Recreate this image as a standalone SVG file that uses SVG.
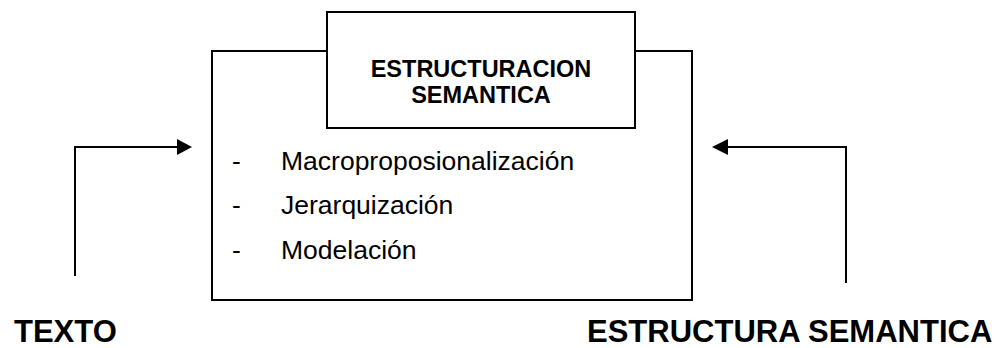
<svg xmlns="http://www.w3.org/2000/svg" width="1008" height="348" viewBox="0 0 1008 348">
<style>
.ln{fill:none;stroke:#000;stroke-width:2}
.bx{fill:#fff;stroke:#000;stroke-width:2}
.hd{fill:#000;stroke:none}
.t{font-family:"Liberation Sans",Arial,sans-serif;fill:#000}
.b{font-weight:bold}
</style>
<rect width="1008" height="348" fill="#fff"/>
<g id="process">
<rect class="bx" x="212" y="51" width="480" height="249"/>
<text class="t" x="232" y="170" font-size="26.5">-</text>
<text class="t" x="281" y="170" font-size="26.5">Macroproposionalización</text>
<text class="t" x="232" y="214" font-size="26.5">-</text>
<text class="t" x="281" y="214" font-size="26.5">Jerarquización</text>
<text class="t" x="232" y="259" font-size="26.5">-</text>
<text class="t" x="281" y="259" font-size="26.5">Modelación</text>
</g>
<g id="title">
<rect class="bx" x="327" y="12" width="308" height="116"/>
<text class="t b" x="481" y="77" font-size="23.5" text-anchor="middle">ESTRUCTURACION</text>
<text class="t b" x="481" y="103" font-size="23.5" text-anchor="middle">SEMANTICA</text>
</g>
<g id="texto">
<text class="t b" x="14" y="342" font-size="31">TEXTO</text>
</g>
<g id="estructura">
<text class="t b" x="587" y="342" font-size="31">ESTRUCTURA SEMANTICA</text>
</g>
<g id="connectors">
<polyline class="ln" points="75,276 75,147 178,147"/>
<polygon class="hd" points="177,139 192,147 177,155"/>
<polyline class="ln" points="846,283 846,147 727,147"/>
<polygon class="hd" points="728,139 712,147 728,155"/>
</g>
</svg>
